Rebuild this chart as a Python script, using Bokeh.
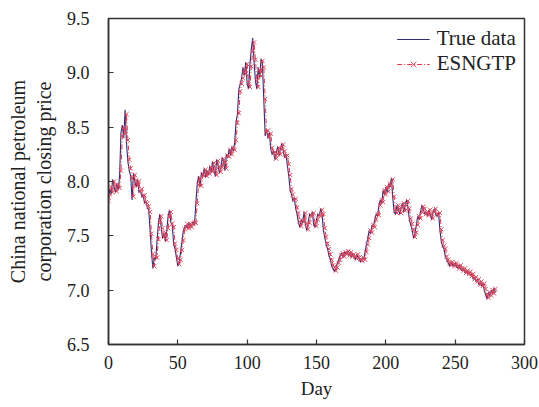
from bokeh.plotting import figure
from bokeh.models import Legend, LegendItem, FixedTicker, PrintfTickFormatter, Range1d
from bokeh.embed import file_html
from bokeh.resources import INLINE

true_data = [
    7.85, 7.93, 7.88, 8.02, 7.95, 7.90, 7.98, 7.92, 8.05, 8.45,
    8.52, 8.40, 8.66, 8.35, 8.18, 8.10, 8.05, 7.83, 8.08, 8.00,
    7.95, 8.02, 7.90, 7.92, 7.86, 7.88, 7.80, 7.82, 7.76, 7.74,
    7.55, 7.35, 7.20, 7.30, 7.28, 7.45, 7.62, 7.70, 7.58, 7.48,
    7.52, 7.45, 7.55, 7.68, 7.74, 7.62, 7.60, 7.42, 7.38, 7.30,
    7.22, 7.26, 7.35, 7.45, 7.55, 7.58, 7.60, 7.57, 7.62, 7.58,
    7.60, 7.63, 7.60, 7.80, 7.98, 8.05, 7.95, 8.08, 8.05, 8.12,
    8.04, 8.10, 8.06, 8.14, 8.08, 8.18, 8.10, 8.05, 8.20, 8.15,
    8.08, 8.12, 8.22, 8.18, 8.10, 8.25, 8.22, 8.30, 8.24, 8.32,
    8.28, 8.36, 8.55, 8.62, 8.85, 8.90, 8.95, 9.05, 8.98, 9.10,
    8.90, 8.85, 9.08, 9.22, 9.32, 9.10, 8.92, 8.85, 9.05, 8.95,
    9.13, 9.08, 8.75, 8.42, 8.48, 8.40, 8.45, 8.30, 8.25, 8.28,
    8.20, 8.26, 8.32, 8.24, 8.30, 8.35, 8.28, 8.22, 8.25, 8.15,
    8.05, 7.92, 7.88, 7.82, 7.85, 7.75, 7.70, 7.62, 7.58, 7.65,
    7.62, 7.72, 7.60, 7.55, 7.62, 7.70, 7.68, 7.72, 7.60, 7.58,
    7.65, 7.70, 7.68, 7.75, 7.70, 7.55, 7.48, 7.42, 7.38, 7.32,
    7.28, 7.22, 7.20, 7.17, 7.20, 7.25, 7.28, 7.32, 7.34, 7.30,
    7.35, 7.33, 7.36, 7.32, 7.35, 7.30, 7.34, 7.31, 7.28, 7.33,
    7.30, 7.28, 7.26, 7.30, 7.28, 7.35, 7.42, 7.48, 7.55, 7.52,
    7.60, 7.58, 7.65, 7.70, 7.68, 7.78, 7.83, 7.80, 7.92, 7.88,
    7.95, 7.90, 7.98, 7.95, 8.03, 7.85, 7.72, 7.70, 7.78, 7.75,
    7.70, 7.76, 7.80, 7.72, 7.78, 7.83, 7.75, 7.65, 7.60, 7.55,
    7.48, 7.52, 7.60, 7.68, 7.65, 7.72, 7.78, 7.75, 7.70, 7.72,
    7.68, 7.74, 7.70, 7.65, 7.72, 7.75, 7.70, 7.68, 7.72, 7.55,
    7.45, 7.40, 7.38, 7.30, 7.28, 7.25, 7.22, 7.26, 7.24, 7.22,
    7.25, 7.22, 7.20, 7.23, 7.20, 7.18, 7.20, 7.16, 7.18, 7.15,
    7.17, 7.13, 7.15, 7.10, 7.12, 7.08, 7.10, 7.05, 7.08, 7.04,
    7.06, 7.00, 6.96, 6.92, 6.98, 6.95, 7.00, 6.97, 7.02, 6.98,
]

esngtp = [
    7.82, 7.88, 7.95, 7.90, 8.00, 7.96, 7.91, 7.97, 7.94, 8.10,
    8.42, 8.50, 8.44, 8.62, 8.38, 8.20, 8.12, 8.03, 7.86, 8.06,
    8.01, 7.96, 8.00, 7.91, 7.93, 7.87, 7.87, 7.81, 7.80, 7.77,
    7.72, 7.52, 7.33, 7.22, 7.31, 7.30, 7.47, 7.63, 7.68, 7.57,
    7.49, 7.53, 7.46, 7.57, 7.68, 7.72, 7.61, 7.58, 7.43, 7.37,
    7.29, 7.24, 7.28, 7.37, 7.46, 7.56, 7.58, 7.61, 7.57, 7.61,
    7.58, 7.61, 7.62, 7.62, 7.80, 7.97, 8.03, 7.96, 8.07, 8.05,
    8.11, 8.05, 8.09, 8.07, 8.13, 8.09, 8.17, 8.10, 8.06, 8.19,
    8.14, 8.09, 8.13, 8.21, 8.17, 8.12, 8.24, 8.23, 8.29, 8.25,
    8.31, 8.29, 8.38, 8.54, 8.63, 8.83, 8.90, 8.95, 9.03, 8.99,
    9.08, 8.91, 8.87, 9.06, 9.20, 9.28, 9.12, 8.93, 8.87, 9.03,
    8.97, 9.11, 9.05, 8.76, 8.45, 8.47, 8.41, 8.44, 8.31, 8.26,
    8.27, 8.21, 8.25, 8.31, 8.25, 8.30, 8.34, 8.28, 8.23, 8.24,
    8.16, 8.06, 7.93, 7.88, 7.83, 7.84, 7.76, 7.71, 7.63, 7.59,
    7.64, 7.63, 7.71, 7.61, 7.56, 7.62, 7.69, 7.68, 7.71, 7.61,
    7.59, 7.65, 7.69, 7.68, 7.74, 7.70, 7.57, 7.49, 7.43, 7.38,
    7.33, 7.28, 7.23, 7.21, 7.18, 7.21, 7.25, 7.28, 7.32, 7.34,
    7.31, 7.35, 7.33, 7.36, 7.32, 7.35, 7.31, 7.33, 7.31, 7.29,
    7.33, 7.30, 7.28, 7.27, 7.30, 7.28, 7.35, 7.42, 7.48, 7.55,
    7.53, 7.60, 7.58, 7.65, 7.70, 7.69, 7.78, 7.83, 7.81, 7.92,
    7.88, 7.95, 7.91, 7.98, 7.96, 8.02, 7.86, 7.73, 7.71, 7.78,
    7.75, 7.71, 7.76, 7.80, 7.73, 7.78, 7.82, 7.75, 7.66, 7.61,
    7.56, 7.49, 7.53, 7.60, 7.68, 7.66, 7.72, 7.77, 7.75, 7.70,
    7.72, 7.69, 7.74, 7.70, 7.66, 7.72, 7.75, 7.70, 7.69, 7.71,
    7.56, 7.46, 7.41, 7.38, 7.31, 7.28, 7.25, 7.23, 7.26, 7.24,
    7.22, 7.25, 7.22, 7.20, 7.23, 7.20, 7.18, 7.20, 7.16, 7.18,
    7.15, 7.17, 7.13, 7.15, 7.10, 7.12, 7.08, 7.10, 7.05, 7.08,
    7.04, 7.06, 7.01, 6.96, 6.93, 6.98, 6.95, 7.00, 6.97, 7.01,
]

days = list(range(len(true_data)))

x_ticks = [0, 50, 100, 150, 200, 250, 300]
y_ticks = [6.5, 7.0, 7.5, 8.0, 8.5, 9.0, 9.5]

FONT = "Liberation Serif"

p = figure(width=539, height=407, output_backend="svg", toolbar_location=None,
           x_range=Range1d(0, 300), y_range=Range1d(6.5, 9.5),
           min_border_left=108, min_border_right=15, min_border_top=18, min_border_bottom=63)

p.background_fill_color = "white"
p.border_fill_color = "white"
p.outline_line_color = "#333333"
p.outline_line_width = 1.5
p.xgrid.visible = False
p.ygrid.visible = False

r_true = p.line(days, true_data, line_color="#2d2d70", line_width=1.1)
r_pl = p.line(days, esngtp, line_color="#e8364e", line_width=1.0, line_dash="5 2 1 2")
r_pm = p.scatter(days, esngtp, marker="x", size=6, line_color="#dc4a60", line_width=1.0)

for ax in (p.xaxis[0], p.yaxis[0]):
    ax.axis_line_color = "#333333"
    ax.axis_line_width = 1.5
    ax.major_tick_in = 5
    ax.major_tick_out = 0
    ax.minor_tick_line_color = None
    ax.major_tick_line_color = "#333333"
    ax.major_tick_line_width = 1.2
    ax.major_label_text_font = FONT
    ax.major_label_text_font_size = "18px"
    ax.major_label_text_color = "#222222"
    ax.axis_label_text_font = FONT
    ax.axis_label_text_font_style = "normal"
    ax.axis_label_text_color = "#222222"

p.xaxis.ticker = FixedTicker(ticks=x_ticks)
p.yaxis.ticker = FixedTicker(ticks=y_ticks)
p.yaxis.formatter = PrintfTickFormatter(format="%.1f")
p.xaxis.major_label_standoff = 11
p.yaxis.major_label_standoff = 19
p.xaxis.axis_label = "Day"
p.yaxis.axis_label = "China national petroleum\ncorporation closing price"
p.xaxis.axis_label_text_font_size = "19px"
p.yaxis.axis_label_text_font_size = "20px"
p.xaxis.axis_label_standoff = 6
p.yaxis.axis_label_standoff = 9

legend = Legend(items=[
    LegendItem(label="True data", renderers=[r_true]),
    LegendItem(label="ESNGTP", renderers=[r_pl, r_pm]),
], location="top_right")
legend.border_line_color = None
legend.background_fill_alpha = 0
legend.label_text_font = FONT
legend.label_text_font_size = "21px"
legend.label_text_color = "#222222"
legend.glyph_width = 33
legend.glyph_height = 20
legend.label_height = 20
legend.label_standoff = 7
legend.spacing = 0
legend.padding = 5
legend.margin = 8
p.add_layout(legend)

open("out.html", "w").write(file_html(p, INLINE))
